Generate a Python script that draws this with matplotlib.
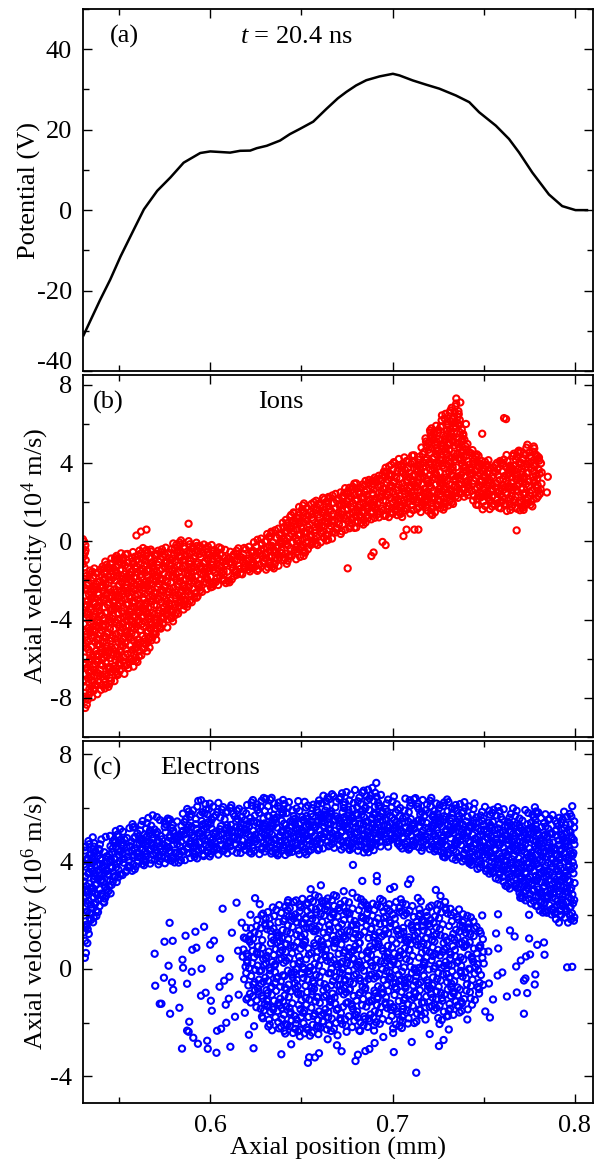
import numpy as np
import matplotlib
matplotlib.use("Agg")
import matplotlib.pyplot as plt
from matplotlib.ticker import MultipleLocator, FuncFormatter

plt.rcParams['font.family'] = ['Liberation Serif', 'DejaVu Serif']
plt.rcParams['mathtext.fontset'] = 'custom'
plt.rcParams['mathtext.rm'] = 'Liberation Serif'
plt.rcParams['mathtext.it'] = 'Liberation Serif:italic'
plt.rcParams['axes.unicode_minus'] = False

# ---------------- (a) electrostatic potential ----------------
pot_x = [0.5305, 0.5396, 0.5451, 0.5508, 0.5581, 0.5636, 0.5709, 0.5781, 0.5854,
         0.5945, 0.6000, 0.6109, 0.6164, 0.6219, 0.6255, 0.6310, 0.6383, 0.6437,
         0.6492, 0.6565, 0.6638, 0.6700, 0.6747, 0.6800, 0.6856, 0.6929, 0.7002,
         0.7038, 0.7111, 0.7184, 0.7257, 0.7348, 0.7421, 0.7475, 0.7567, 0.7639,
         0.7694, 0.7767, 0.7858, 0.7931, 0.8004, 0.8067]
pot_v = [-31.1, -22.3, -17.3, -11.5, -4.8, 0.2, 4.8, 8.1, 11.8,
         14.2, 14.6, 14.3, 14.75, 14.8, 15.4, 16.0, 17.3, 18.9,
         20.2, 22.0, 25.2, 27.8, 29.4, 31.0, 32.3, 33.25, 33.9,
         33.5, 32.25, 31.2, 30.2, 28.5, 26.85, 24.35, 21.0, 17.7,
         14.35, 9.35, 3.9, 1.0, 0.0, 0.0]

# ---------------- (b) ion phase space (10^4 m/s) ----------------
ion_x = [0.5306, 0.5399, 0.5454, 0.5508, 0.5579, 0.5634, 0.5710, 0.5781, 0.5852,
         0.5945, 0.6000, 0.6109, 0.6219, 0.6311, 0.6399, 0.6492, 0.6563, 0.6672,
         0.6765, 0.6858, 0.6945, 0.7038, 0.7131, 0.7219, 0.7295, 0.7350, 0.7404,
         0.7492, 0.7585, 0.7678, 0.7765, 0.7820]
ion_lo = [-8.8, -7.6, -7.45, -7.0, -6.5, -5.85, -5.0, -4.3, -3.6,
          -2.96, -2.45, -2.1, -1.6, -1.5, -1.4, -0.9, -0.4, 0.1,
          0.6, 0.8, 1.3, 1.1, 1.5, 1.3, 1.6, 2.0, 2.3,
          1.5, 1.6, 1.4, 1.6, 2.5]
ion_hi = [-1.4, -1.3, -0.6, -0.5, -0.5, -0.3, -0.4, -0.1, 0.1,
          0.0, -0.15, -0.5, -0.05, 0.45, 0.97, 1.9, 2.1, 2.5,
          2.9, 3.2, 3.7, 4.35, 4.5, 5.9, 6.7, 7.2, 5.05,
          4.2, 4.2, 4.7, 5.05, 4.5]
ion_edge_x = [0.5300, 0.5318]
ion_edge_lo = [-1.4, -1.4]
ion_edge_hi = [0.3, -0.2]
ion_out_x = [0.5595, 0.5620, 0.5650, 0.5881, 0.6754, 0.6884, 0.6896, 0.6945, 0.6962,
             0.7060, 0.7077, 0.7120, 0.7142, 0.7350, 0.7372, 0.7388, 0.7403, 0.7492,
             0.7612, 0.7623, 0.7681, 0.7847, 0.7852]
ion_out_v = [0.3, 0.5, 0.6, 0.9, -1.38, -0.75, -0.57, -0.03, -0.19,
             0.27, 0.6, 0.6, 0.6, 7.3, 7.1, 5.4, 6.0, 5.5,
             6.3, 6.25, 0.56, 2.5, 3.3]

# ---------------- (c) electron phase space (10^6 m/s) ----------------
beam_x = [0.5306, 0.5344, 0.5399, 0.5454, 0.5508, 0.5579, 0.5672, 0.5781, 0.5852,
          0.5945, 0.6109, 0.6251, 0.6492, 0.6672, 0.6858, 0.6945, 0.7038, 0.7219,
          0.7404, 0.7585, 0.7765, 0.7913, 0.8000]
beam_lo = [0.1, 1.3, 2.3, 2.8, 3.3, 3.65, 3.85, 3.9, 4.0,
           4.15, 4.3, 4.25, 4.2, 4.5, 4.3, 4.5, 4.5, 4.3,
           3.9, 3.3, 2.3, 1.8, 1.8]
beam_mid = [4.6, 4.7, 4.5, 4.7, 4.9, 5.0, 5.2, 5.1, 5.3,
            5.5, 5.4, 5.6, 5.6, 5.8, 6.0, 5.8, 5.7, 5.7,
            5.6, 5.5, 5.4, 5.3, 5.3]
beam_hi = [5.0, 5.1, 4.9, 5.1, 5.3, 5.5, 5.8, 5.6, 6.0,
           6.4, 6.1, 6.45, 6.3, 6.6, 6.9, 6.6, 6.4, 6.4,
           6.25, 6.1, 5.9, 5.8, 6.07]

blob_x = [0.618, 0.630, 0.645, 0.660, 0.675, 0.690, 0.705, 0.720, 0.735, 0.745, 0.750]
blob_lo = [-1.0, -2.2, -2.5, -2.5, -2.4, -2.3, -2.2, -2.0, -1.8, -1.4, -0.8]
blob_hi = [1.5, 2.2, 2.6, 2.8, 2.7, 2.6, 2.6, 2.5, 2.3, 2.0, 1.3]

halo_x = [0.568, 0.585, 0.605, 0.625, 0.650, 0.680, 0.710, 0.735, 0.755, 0.770, 0.785]
halo_lo = [-1.5, -3.0, -3.2, -3.2, -3.4, -3.5, -3.1, -2.8, -2.0, -1.0, -0.3]
halo_hi = [1.0, 1.8, 2.4, 2.8, 3.0, 3.3, 3.2, 2.8, 2.0, 1.5, 1.2]

ele_out_x = [0.7130, 0.7007, 0.6536, 0.6574, 0.6810, 0.5845, 0.5873, 0.5723, 0.5790,
             0.5777, 0.5794, 0.7794, 0.7834, 0.7958, 0.7986, 0.7721, 0.7739, 0.7721,
             0.6783, 0.6914, 0.6914, 0.7098, 0.6607, 0.7579, 0.7749, 0.7913, 0.7963,
             0.7995, 0.7986, 0.7781, 0.6911]
ele_out_v = [-3.87, -3.1, -3.5, -3.3, -3.2, -2.97, -2.3, -1.3, -0.5,
             1.72, 1.05, 0.9, 0.53, 0.06, 0.08, -1.67, -0.9, -0.43,
             3.88, 3.47, 3.27, 3.34, 3.12, 2.04, 2.02, 1.73, 1.73,
             1.8, 6.07, 6.03, 6.94]


def halton(i, base):
    f, r = 1.0, 0.0
    while i > 0:
        f /= base
        r += f * (i % base)
        i //= base
    return r


def fill_band(xs, lo, hi, count, start=1):
    """Spread `count` particles evenly over the band lo(x) < v < hi(x)."""
    xs, lo, hi = map(np.asarray, (xs, lo, hi))
    x0, x1 = xs.min(), xs.max()
    v0, v1 = lo.min(), hi.max()
    px, pv = [], []
    i = start
    while len(px) < count:
        x = x0 + (x1 - x0) * halton(i, 2)
        v = v0 + (v1 - v0) * halton(i, 3)
        i += 1
        if np.interp(x, xs, lo) <= v <= np.interp(x, xs, hi):
            px.append(x)
            pv.append(v)
    return np.array(px), np.array(pv)


fig = plt.figure(figsize=(5.99, 11.59), dpi=100)
left, width, height = 0.138, 0.852, 0.3123
ax_a = fig.add_axes([left, 0.6799, width, height])
ax_b = fig.add_axes([left, 0.3641, width, height])
ax_c = fig.add_axes([left, 0.0483, width, height])

FS = 19
for ax in (ax_a, ax_b, ax_c):
    ax.set_xlim(0.53, 0.81)
    ax.xaxis.set_major_locator(MultipleLocator(0.1))
    ax.xaxis.set_minor_locator(MultipleLocator(0.05))
    ax.tick_params(which='both', direction='in', top=True, right=True,
                   labelsize=FS, width=1.0, pad=7.5)
    ax.tick_params(which='major', length=6.5)
    ax.tick_params(which='minor', length=4)
    for s in ax.spines.values():
        s.set_linewidth(1.3)

ax_a.tick_params(labelbottom=False)
ax_b.tick_params(labelbottom=False)
ax_c.tick_params(axis='x', pad=8.5)

# (a)
ax_a.plot(pot_x, pot_v, color='black', lw=1.8)
ax_a.set_ylim(-40, 50)
ax_a.yaxis.set_major_locator(MultipleLocator(20))
ax_a.yaxis.set_minor_locator(MultipleLocator(10))
# bottom label is drawn separately, lifted clear of the panel below
ax_a.yaxis.set_major_formatter(FuncFormatter(lambda v, p: '' if v <= -40 else f'{v:.0f}'))
ax_a.annotate('-40', xy=(0, -40), xycoords=ax_a.get_yaxis_transform(),
              xytext=(-7.5, 6), textcoords='offset points',
              ha='right', va='center', fontsize=FS)
ax_a.set_ylabel('Potential (V)', fontsize=FS, labelpad=-3)
ax_a.text(0.054, 0.923, '(a)', transform=ax_a.transAxes, fontsize=FS, va='center')
ax_a.text(0.308, 0.923, r'$t$ = 20.4 ns', transform=ax_a.transAxes, fontsize=FS, va='center')

mk = dict(s=20, facecolors='none', linewidths=1.5)

# (b)
bx, bv = fill_band(ion_x, ion_lo, ion_hi, 1700, 1)
ex, ev = fill_band(ion_edge_x, ion_edge_lo, ion_edge_hi, 10, 7)
ax_b.scatter(np.concatenate([bx, ex, ion_out_x]), np.concatenate([bv, ev, ion_out_v]),
             edgecolors='#ff0000', **mk)
ax_b.set_ylim(-10, 8.5)
ax_b.yaxis.set_major_locator(MultipleLocator(4))
ax_b.yaxis.set_minor_locator(MultipleLocator(2))
ax_b.set_ylabel(r'Axial velocity (10$^4$ m/s)', fontsize=FS, labelpad=-0.5)
ax_b.text(0.02, 0.925, '(b)', transform=ax_b.transAxes, fontsize=FS, va='center')
ax_b.text(0.344, 0.925, 'Ions', transform=ax_b.transAxes, fontsize=FS, va='center')

# (c)
cx1, cv1 = fill_band(beam_x, beam_lo, beam_mid, 1250, 11)
cx2, cv2 = fill_band(beam_x, beam_mid, beam_hi, 300, 3001)
cx3, cv3 = fill_band(blob_x, blob_lo, blob_hi, 850, 5003)
cx4, cv4 = fill_band(halo_x, halo_lo, halo_hi, 240, 9007)
ax_c.scatter(np.concatenate([cx1, cx2, cx3, cx4, ele_out_x]),
             np.concatenate([cv1, cv2, cv3, cv4, ele_out_v]),
             edgecolors='#0000ff', **mk)
ax_c.set_ylim(-5, 8.5)
ax_c.yaxis.set_major_locator(MultipleLocator(4))
ax_c.yaxis.set_minor_locator(MultipleLocator(2))
ax_c.set_ylabel(r'Axial velocity (10$^6$ m/s)', fontsize=FS, labelpad=-0.5)
ax_c.set_xlabel('Axial position (mm)', fontsize=FS, labelpad=0)
ax_c.text(0.02, 0.925, '(c)', transform=ax_c.transAxes, fontsize=FS, va='center')
ax_c.text(0.152, 0.925, 'Electrons', transform=ax_c.transAxes, fontsize=FS, va='center')

fig.savefig('out.png', dpi=100)
